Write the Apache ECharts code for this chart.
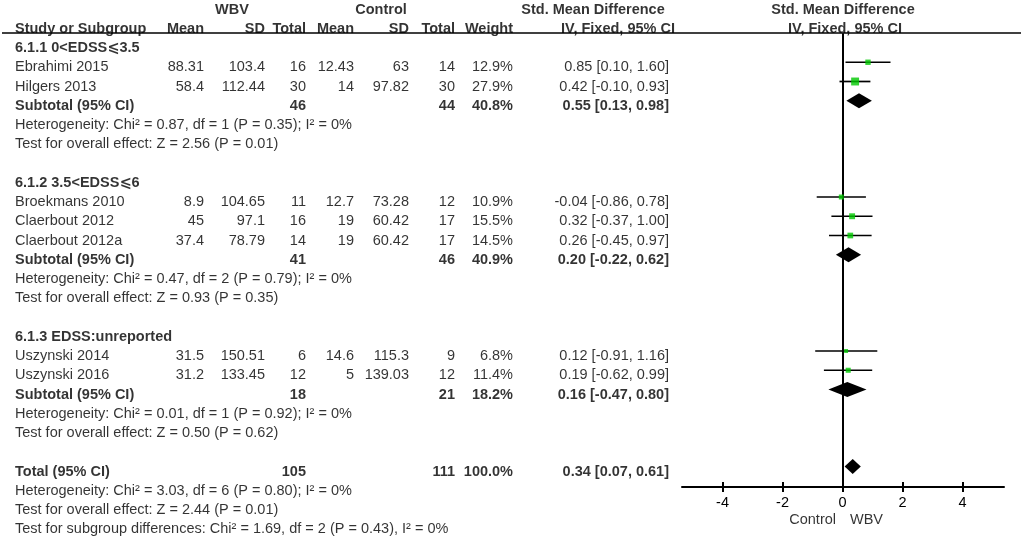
<!DOCTYPE html>
<html lang="en">

<head>
  <meta charset="UTF-8">
  <title>Forest plot</title>
  <style>
    html, body { margin: 0; padding: 0; background: #fff; }
    #main { width: 1021px; height: 538px; }
  </style>
</head>

<body>
  <div id="main"></div>
  <script src="https://cdn.jsdelivr.net/npm/echarts@6/dist/echarts.min.js"></script>
  <script>
    // studies
    const studies = ['Ebrahimi 2015', 'Hilgers 2013', 'Broekmans 2010', 'Claerbout 2012', 'Claerbout 2012a', 'Uszynski 2014', 'Uszynski 2016'];
    const studyGroup = [0, 0, 1, 1, 1, 2, 2];
    const wbvMean = [88.31, 58.4, 8.9, 45, 37.4, 31.5, 31.2];
    const wbvSD = [103.4, 112.44, 104.65, 97.1, 78.79, 150.51, 133.45];
    const wbvN = [16, 30, 11, 16, 14, 6, 12];
    const ctlMean = [12.43, 14, 12.7, 19, 19, 14.6, 5];
    const ctlSD = [63, 97.82, 73.28, 60.42, 60.42, 115.3, 139.03];
    const ctlN = [14, 30, 12, 17, 17, 9, 12];
    const weight = [12.9, 27.9, 10.9, 15.5, 14.5, 6.8, 11.4];
    const smd = [0.85, 0.42, -0.04, 0.32, 0.26, 0.12, 0.19];
    const smdLo = [0.10, -0.10, -0.86, -0.37, -0.45, -0.91, -0.62];
    const smdHi = [1.60, 0.93, 0.78, 1.00, 0.97, 1.16, 0.99];

    // subgroups
    const groupTitles = ['6.1.1 0<EDSS⩽3.5', '6.1.2 3.5<EDSS⩽6', '6.1.3 EDSS:unreported'];
    const subWbvN = [46, 41, 18];
    const subCtlN = [44, 46, 21];
    const subWeight = [40.8, 40.9, 18.2];
    const subSmd = [0.55, 0.20, 0.16];
    const subLo = [0.13, -0.22, -0.47];
    const subHi = [0.98, 0.62, 0.80];
    const hetTexts = [
      'Heterogeneity: Chi² = 0.87, df = 1 (P = 0.35); I² = 0%',
      'Heterogeneity: Chi² = 0.47, df = 2 (P = 0.79); I² = 0%',
      'Heterogeneity: Chi² = 0.01, df = 1 (P = 0.92); I² = 0%'
    ];
    const effectTexts = [
      'Test for overall effect: Z = 2.56 (P = 0.01)',
      'Test for overall effect: Z = 0.93 (P = 0.35)',
      'Test for overall effect: Z = 0.50 (P = 0.62)'
    ];

    // overall
    const totalWbvN = 105;
    const totalCtlN = 111;
    const totalWeight = 100.0;
    const totalSmd = [0.34, 0.07, 0.61];
    const footTexts = [
      'Heterogeneity: Chi² = 3.03, df = 6 (P = 0.80); I² = 0%',
      'Test for overall effect: Z = 2.44 (P = 0.01)',
      'Test for subgroup differences: Chi² = 1.69, df = 2 (P = 0.43), I² = 0%'
    ];
    const xTicks = [-4, -2, 0, 2, 4];

    // row layout (row index from top)
    const groupRows = [2, 9, 17];
    const studyRows = [3, 4, 10, 11, 12, 18, 19];
    const subRows = [5, 13, 20];
    const totalRow = 24;

    const FONT = '"Liberation Sans", Arial, "DejaVu Sans", sans-serif';
    const FS = 14.5;
    const COL = { study: 15, wMean: 204, wSD: 265, wN: 306, cMean: 354, cSD: 409, cN: 455, weight: 513, ci: 669 };

    const fmtCI = (m, l, h) => m.toFixed(2) + ' [' + l.toFixed(2) + ', ' + h.toFixed(2) + ']';
    const pct = v => v.toFixed(1) + '%';

    // table text, one scatter point per cell
    const texts = [];
    function put(x, r, text, align, bold) {
      texts.push({
        value: [x, r],
        label: { formatter: String(text), align: align, fontWeight: bold ? 'bold' : 'normal' }
      });
    }

    put(232, 0, 'WBV', 'center', true);
    put(381, 0, 'Control', 'center', true);
    put(593, 0, 'Std. Mean Difference', 'center', true);
    put(843, 0, 'Std. Mean Difference', 'center', true);
    put(COL.study, 1, 'Study or Subgroup', 'left', true);
    put(COL.wMean, 1, 'Mean', 'right', true);
    put(COL.wSD, 1, 'SD', 'right', true);
    put(COL.wN, 1, 'Total', 'right', true);
    put(COL.cMean, 1, 'Mean', 'right', true);
    put(COL.cSD, 1, 'SD', 'right', true);
    put(COL.cN, 1, 'Total', 'right', true);
    put(COL.weight, 1, 'Weight', 'right', true);
    put(618, 1, 'IV, Fixed, 95% CI', 'center', true);
    put(845, 1, 'IV, Fixed, 95% CI', 'center', true);

    groupTitles.forEach((t, g) => {
      put(COL.study, groupRows[g], t, 'left', true);
      const sr = subRows[g];
      put(COL.study, sr, 'Subtotal (95% CI)', 'left', true);
      put(COL.wN, sr, subWbvN[g], 'right', true);
      put(COL.cN, sr, subCtlN[g], 'right', true);
      put(COL.weight, sr, pct(subWeight[g]), 'right', true);
      put(COL.ci, sr, fmtCI(subSmd[g], subLo[g], subHi[g]), 'right', true);
      put(COL.study, sr + 1, hetTexts[g], 'left', false);
      put(COL.study, sr + 2, effectTexts[g], 'left', false);
    });

    studies.forEach((s, i) => {
      const r = studyRows[i];
      put(COL.study, r, s, 'left', false);
      put(COL.wMean, r, wbvMean[i], 'right', false);
      put(COL.wSD, r, wbvSD[i], 'right', false);
      put(COL.wN, r, wbvN[i], 'right', false);
      put(COL.cMean, r, ctlMean[i], 'right', false);
      put(COL.cSD, r, ctlSD[i], 'right', false);
      put(COL.cN, r, ctlN[i], 'right', false);
      put(COL.weight, r, pct(weight[i]), 'right', false);
      put(COL.ci, r, fmtCI(smd[i], smdLo[i], smdHi[i]), 'right', false);
    });

    put(COL.study, totalRow, 'Total (95% CI)', 'left', true);
    put(COL.wN, totalRow, totalWbvN, 'right', true);
    put(COL.cN, totalRow, totalCtlN, 'right', true);
    put(COL.weight, totalRow, pct(totalWeight), 'right', true);
    put(COL.ci, totalRow, fmtCI(totalSmd[0], totalSmd[1], totalSmd[2]), 'right', true);
    footTexts.forEach((t, k) => put(COL.study, totalRow + 1 + k, t, 'left', false));

    // favours labels under the axis
    put(836, 26.52, 'Control', 'right', false);
    put(850, 26.52, 'WBV', 'left', false);

    // plot marks
    const ciData = studies.map((s, i) => [smdLo[i], smdHi[i], studyRows[i]]);
    const sqData = studies.map((s, i) => [smd[i], studyRows[i], weight[i]]);
    const dmData = subSmd.map((m, g) => [m, subLo[g], subHi[g], subRows[g]]);
    dmData.push([totalSmd[0], totalSmd[1], totalSmd[2], totalRow]);

    const myChart = echarts.init(document.getElementById('main'));

    const ROW_PX = 19.25;
    const option = {
      backgroundColor: '#fff',
      animation: false,
      textStyle: { fontFamily: FONT },
      grid: [
        // table: text rows centred at 9.5 + 19.25 * row
        { left: 0, right: 0, top: 0, bottom: 0, containLabel: false, outerBoundsMode: 'none' },
        // plot: from header rule down to the x axis
        { left: 682, right: 17, top: 34, height: 453, containLabel: false, outerBoundsMode: 'none' }
      ],
      xAxis: [
        { gridIndex: 0, type: 'value', min: 0, max: 1021, show: false },
        {
          gridIndex: 1, type: 'value', min: -5.35, max: 5.383, position: 'bottom',
          axisLine: { show: true, onZero: false, lineStyle: { color: '#000', width: 2 } },
          axisTick: { show: true, customValues: xTicks, length: 5, lineStyle: { color: '#000', width: 2 } },
          axisLabel: { show: true, customValues: xTicks, color: '#000', fontSize: FS, fontFamily: FONT, margin: 8 },
          splitLine: { show: false }
        },
        {
          gridIndex: 1, type: 'value', min: -5.35, max: 5.383, position: 'bottom',
          axisLine: { show: false, onZero: false },
          axisTick: { show: true, inside: true, customValues: xTicks, length: 5, lineStyle: { color: '#000', width: 2 } },
          axisLabel: { show: false },
          splitLine: { show: false }
        }
      ],
      yAxis: [
        { gridIndex: 0, type: 'value', inverse: true, min: -9.5 / ROW_PX, max: (538 - 9.5) / ROW_PX, show: false },
        {
          gridIndex: 1, type: 'value', inverse: true, min: (34 - 4.5) / ROW_PX, max: (487 - 4.5) / ROW_PX,
          axisLine: { show: true, onZero: true, lineStyle: { color: '#000', width: 2 } },
          axisTick: { show: false },
          axisLabel: { show: false },
          splitLine: { show: false }
        }
      ],
      graphic: [
        { type: 'line', shape: { x1: 2, y1: 33, x2: 1021, y2: 33 }, style: { stroke: '#000', lineWidth: 1.7 }, z: 10 }
      ],
      series: [
        {
          name: 'table', type: 'scatter', xAxisIndex: 0, yAxisIndex: 0,
          symbolSize: 0, silent: true,
          label: {
            show: true, position: [0, 0], verticalAlign: 'middle',
            color: '#000', fontSize: FS, fontFamily: FONT
          },
          data: texts
        },
        {
          name: 'ci', type: 'custom', xAxisIndex: 1, yAxisIndex: 1, silent: true,
          encode: { x: [0, 1], y: 2 },
          renderItem: function (params, api) {
            const a = api.coord([api.value(0), api.value(2)]);
            const b = api.coord([api.value(1), api.value(2)]);
            return {
              type: 'line',
              shape: { x1: a[0], y1: a[1], x2: b[0], y2: b[1] },
              style: { stroke: '#000', lineWidth: 1.7 }
            };
          },
          data: ciData, z: 3
        },
        {
          name: 'study', type: 'scatter', xAxisIndex: 1, yAxisIndex: 1, silent: true,
          symbol: 'rect',
          symbolSize: v => 1.5 * Math.sqrt(v[2]),
          itemStyle: { color: '#00c800' },
          data: sqData, z: 4
        },
        {
          name: 'pooled', type: 'custom', xAxisIndex: 1, yAxisIndex: 1, silent: true,
          encode: { x: [0, 1, 2], y: 3 },
          renderItem: function (params, api) {
            const r = api.value(3);
            const c = api.coord([api.value(0), r]);
            const l = api.coord([api.value(1), r]);
            const h = api.coord([api.value(2), r]);
            return {
              type: 'polygon',
              shape: { points: [[l[0], c[1]], [c[0], c[1] - 7.5], [h[0], c[1]], [c[0], c[1] + 7.5]] },
              style: { fill: '#000' }
            };
          },
          data: dmData, z: 4
        }
      ]
    };

    myChart.setOption(option);
  </script>
</body>

</html>
